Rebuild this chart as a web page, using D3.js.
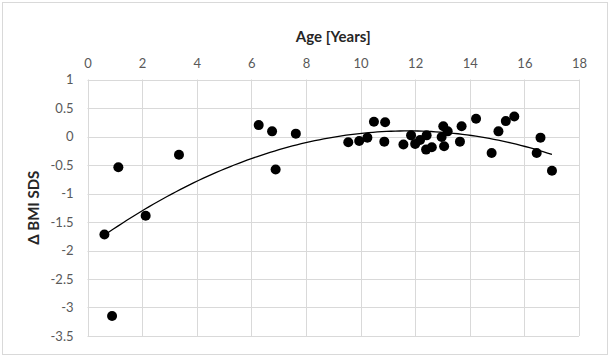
<!DOCTYPE html>
<html>
<head>
<meta charset="utf-8">
<script src="https://cdn.jsdelivr.net/npm/d3@7"></script>
<style>
  html, body { margin: 0; padding: 0; background: #fff; }
  svg { display: block; }
</style>
</head>
<body>
<svg id="chart" width="610" height="358"></svg>
<script>
// ---- data ----
const ageYears = [0.62, 0.90, 1.13, 2.13, 3.35, 6.27, 6.76, 6.89, 7.63,
  9.55, 9.95, 10.25, 10.49, 10.90, 10.87, 11.57, 11.85, 12.00, 12.18, 12.42,
  12.61, 12.40, 13.03, 13.19, 12.97, 13.06, 13.70, 13.64, 14.23, 14.80,
  15.05, 15.32, 15.63, 16.45, 16.59, 17.01];
const deltaBmiSds = [-1.72, -3.15, -0.54, -1.39, -0.32, 0.20, 0.09, -0.58, 0.05,
  -0.10, -0.08, -0.02, 0.26, 0.25, -0.09, -0.14, 0.02, -0.13, -0.06, 0.02,
  -0.19, -0.23, 0.18, 0.09, -0.01, -0.17, 0.18, -0.09, 0.31, -0.29,
  0.09, 0.27, 0.35, -0.29, -0.02, -0.60];
const xTicks = [0, 2, 4, 6, 8, 10, 12, 14, 16, 18];
const yTicks = [1, 0.5, 0, -0.5, -1, -1.5, -2, -2.5, -3, -3.5];
const xTitle = "Age [Years]";
const yTitle = "Δ BMI SDS";

// ---- layout ----
const W = 610, H = 358;
const plot = { left: 87.5, right: 579, top: 79.5, bottom: 336 };
const font = "Lato, 'Open Sans', sans-serif";

const svg = d3.select("#chart");
svg.append("rect").attr("x", 2.5).attr("y", 2.5).attr("width", W - 5).attr("height", H - 6)
  .attr("fill", "#fff").attr("stroke", "#d9d9d9").attr("stroke-width", 1);

const x = d3.scaleLinear().domain([0, 18]).range([plot.left, plot.right]);
const y = d3.scaleLinear().domain([-3.5, 1]).range([plot.bottom, plot.top]);

// gridlines
const grid = svg.append("g");
grid.selectAll("line.v").data(xTicks).join("line")
  .attr("x1", d => Math.round(x(d)) + 0.5).attr("x2", d => Math.round(x(d)) + 0.5)
  .attr("y1", y(1)).attr("y2", y(-3.5))
  .attr("stroke", "#d9d9d9").attr("stroke-width", 1);
grid.selectAll("line.h").data(yTicks).join("line")
  .attr("y1", d => Math.round(y(d)) + 0.5).attr("y2", d => Math.round(y(d)) + 0.5)
  .attr("x1", x(0)).attr("x2", x(18))
  .attr("stroke", "#d9d9d9").attr("stroke-width", 1);

// axes (top x axis, left y axis) without domain lines / ticks
const xAxis = d3.axisTop(x).tickValues(xTicks).tickSize(0).tickPadding(12).tickFormat(d3.format("d"));
const gx = svg.append("g").attr("transform", `translate(0,${plot.top})`).call(xAxis);
const yAxis = d3.axisLeft(y).tickValues(yTicks).tickSize(0).tickPadding(14).tickFormat(d => String(d));
const gy = svg.append("g").attr("transform", `translate(${plot.left},0)`).call(yAxis);
[gx, gy].forEach(g => {
  g.select(".domain").remove();
  g.selectAll("text").attr("font-family", font).attr("font-size", 13).attr("fill", "#595959");
});

// titles
svg.append("text").attr("x", (plot.left + plot.right) / 2).attr("y", 42)
  .attr("text-anchor", "middle").attr("font-family", font).attr("font-weight", "bold")
  .attr("font-size", 15).attr("fill", "#262626").text(xTitle);
svg.append("text").attr("transform", `translate(39,${(plot.top + plot.bottom) / 2}) rotate(-90)`)
  .attr("text-anchor", "middle").attr("font-family", font).attr("font-weight", "bold")
  .attr("font-size", 15).attr("fill", "#262626").text(yTitle);

// quadratic least-squares trendline (like Excel's polynomial order 2)
const pts = ageYears.map((a, i) => [a, deltaBmiSds[i]]);
function polyFit2(p) {
  let s = [0, 0, 0, 0, 0], t = [0, 0, 0];
  p.forEach(([xv, yv]) => {
    for (let k = 0; k < 5; k++) s[k] += Math.pow(xv, k);
    for (let k = 0; k < 3; k++) t[k] += yv * Math.pow(xv, k);
  });
  const M = [[s[0], s[1], s[2], t[0]], [s[1], s[2], s[3], t[1]], [s[2], s[3], s[4], t[2]]];
  for (let i = 0; i < 3; i++) {
    for (let j = i + 1; j < 3; j++) {
      const f = M[j][i] / M[i][i];
      for (let k = i; k < 4; k++) M[j][k] -= f * M[i][k];
    }
  }
  const c = [0, 0, 0];
  for (let i = 2; i >= 0; i--) {
    let v = M[i][3];
    for (let k = i + 1; k < 3; k++) v -= M[i][k] * c[k];
    c[i] = v / M[i][i];
  }
  return c;
}
const coef = polyFit2(pts);
const xMin = d3.min(ageYears), xMax = d3.max(ageYears);
const curve = d3.range(0, 101).map(i => {
  const xv = xMin + (xMax - xMin) * i / 100;
  return [xv, coef[0] + coef[1] * xv + coef[2] * xv * xv];
});
svg.append("path").datum(curve)
  .attr("d", d3.line().x(d => x(d[0])).y(d => y(d[1])))
  .attr("fill", "none").attr("stroke", "#000").attr("stroke-width", 1.3);

// markers
svg.append("g").selectAll("circle").data(pts).join("circle")
  .attr("cx", d => x(d[0])).attr("cy", d => y(d[1])).attr("r", 5)
  .attr("fill", "#000");
</script>
</body>
</html>
